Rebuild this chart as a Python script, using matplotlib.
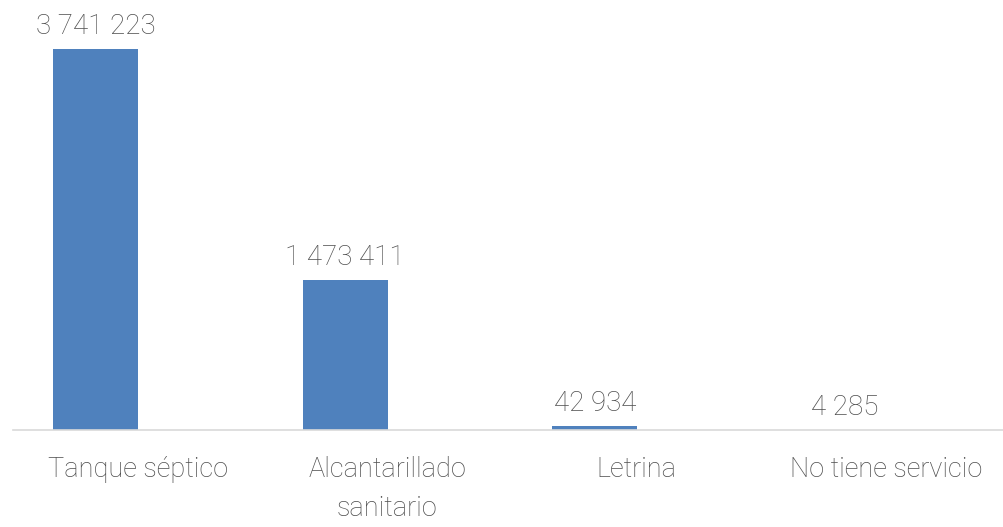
import matplotlib.pyplot as plt
import numpy as np

# viviendas por tipo de servicio sanitario
categorias = ['Tanque séptico', 'Alcantarillado\nsanitario', 'Letrina', 'No tiene servicio']
valores = [3741223, 1473411, 42934, 4285]

def fmt(v):
    return '{:,}'.format(v).replace(',', ' ')

plt.rcParams['font.family'] = ['Roboto', 'DejaVu Sans']
plt.rcParams['font.weight'] = 'light'

fig = plt.figure(figsize=(10.04, 5.27), dpi=100)
ax = fig.add_axes([13 / 1004, 97 / 527, 991 / 1004, 430 / 527])

x = np.arange(len(valores))
offs = 42 / 249.5
bars = ax.bar(x - offs, valores, width=85 / 249.5, color='#4F81BD', zorder=2)

for b, v in zip(bars, valores):
    ax.annotate(fmt(v), (b.get_x() + b.get_width() / 2, v), xytext=(0, 6.5),
                textcoords='offset points', ha='center', va='bottom',
                fontsize=20, color='#4d4d4d', fontweight='light')

ax.set_xlim(-0.5, 991 / 249.5 - 0.5)
ax.set_ylim(0, 3741223 * 430 / 381)
ax.set_xticks(x)
ax.set_xticklabels(categorias, fontsize=19.5, color='#4d4d4d', fontweight='light',
                   linespacing=1.55)
ax.tick_params(axis='x', length=0, pad=19)
ax.set_yticks([])
for s in ['top', 'right', 'left']:
    ax.spines[s].set_visible(False)
ax.spines['bottom'].set_color('#D9D9D9')
ax.spines['bottom'].set_linewidth(1.2)

fig.savefig('out.png', dpi=100)
